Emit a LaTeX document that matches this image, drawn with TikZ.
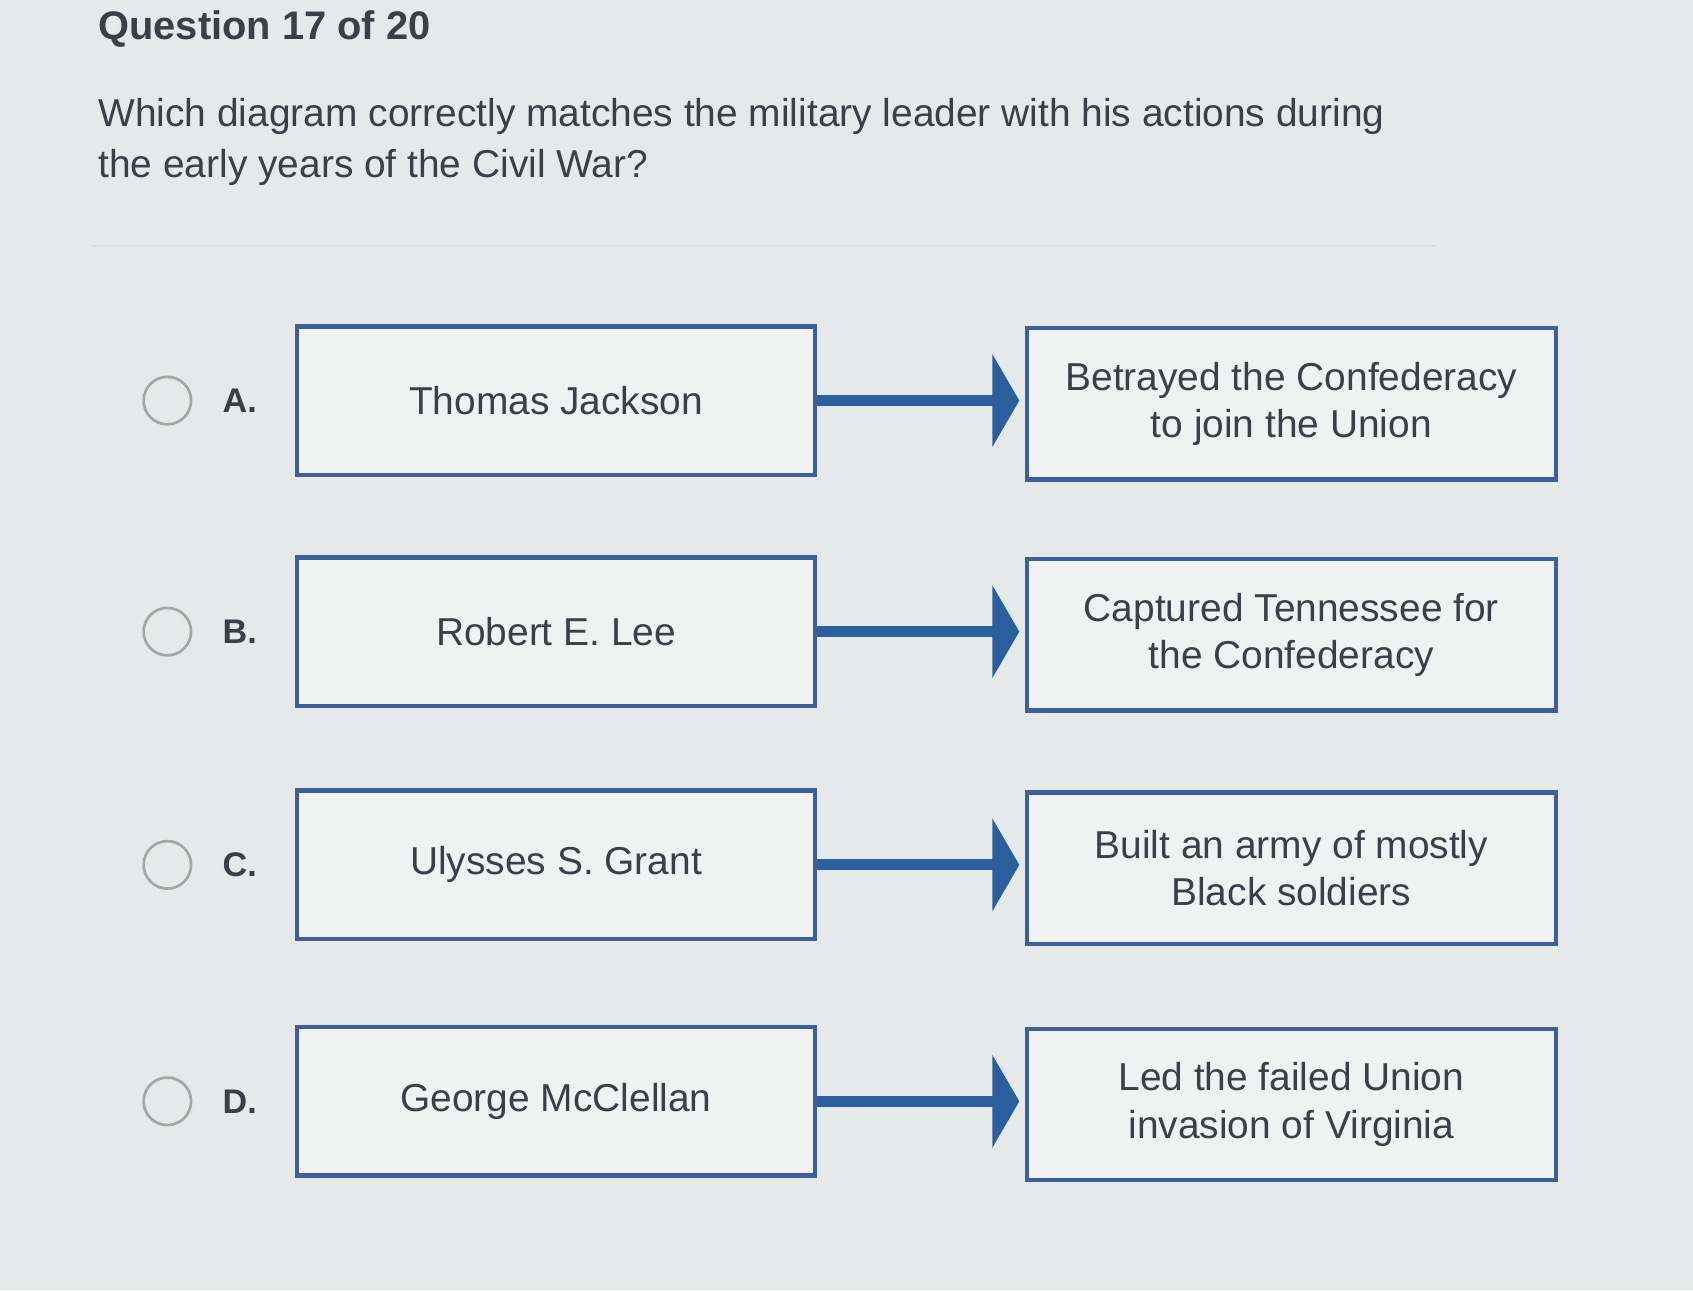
\documentclass[tikz,border=0pt]{standalone}
\usepackage{fontspec}
\setmainfont{Liberation Sans}
\usetikzlibrary{arrows.meta}
\definecolor{bg}{HTML}{E6E9E9}
\definecolor{bx}{HTML}{3F5E9C}
\definecolor{ar}{HTML}{2C5F9E}
\definecolor{tx}{HTML}{3A3F48}
\begin{document}
\begin{tikzpicture}[x=0.02cm,y=-0.02cm,
 box/.style={draw=bx,line width=0.08cm,fill=bg!60!white,text=tx,font=\fontsize{20.5}{25}\selectfont,align=center,inner sep=0},
 conn/.style={draw=ar,line width=0.2cm,-{Triangle[length=0.5cm,width=1.7cm]},shorten >=0.1cm},
 radio/.style={draw=gray!70,line width=0.05cm,circle,minimum size=0.88cm,inner sep=0},
 lab/.style={font=\bfseries\fontsize{18}{21}\selectfont,text=tx}]
\fill[bg] (0,0) rectangle (1568,1195);
\useasboundingbox (0,0) rectangle (1568,1195);
\node[anchor=west,font=\bfseries\fontsize{21}{25}\selectfont,text=tx] (q) at (85,27) {Question 17 of 20};
\node[anchor=north west,align=left,font=\fontsize{20.5}{27}\selectfont,text=tx] (t) at (85,85) {Which diagram correctly matches the military leader with his actions during\\the early years of the Civil War?};
\draw[gray!25,line width=0.03cm] (85,228) -- (1330,228);
\foreach \n/\y/\L/\R/\lx in {a/371/Thomas Jackson/{Betrayed the Confederacy\\to join the Union}/A.,
  b/585/Robert E. Lee/{Captured Tennessee for\\the Confederacy}/B.,
  c/801/Ulysses S. Grant/{Built an army of mostly\\Black soldiers}/C.,
  d/1020/George McClellan/{Led the failed Union\\invasion of Virginia}/D.}{
  \node[radio] (r\n) at (155,\y) {};
  \node[lab] (l\n) at (222,\y) {\lx};
  \node[box,minimum width=9.6cm,minimum height=2.75cm] (L\n) at (515,\y) {\L};
  \node[box,minimum width=9.8cm,minimum height=2.8cm] (R\n) at (1196,\y+3) {\R};
  \draw[conn] (L\n.east) -- (L\n.east -| R\n.west);
}
\end{tikzpicture}
\end{document}
